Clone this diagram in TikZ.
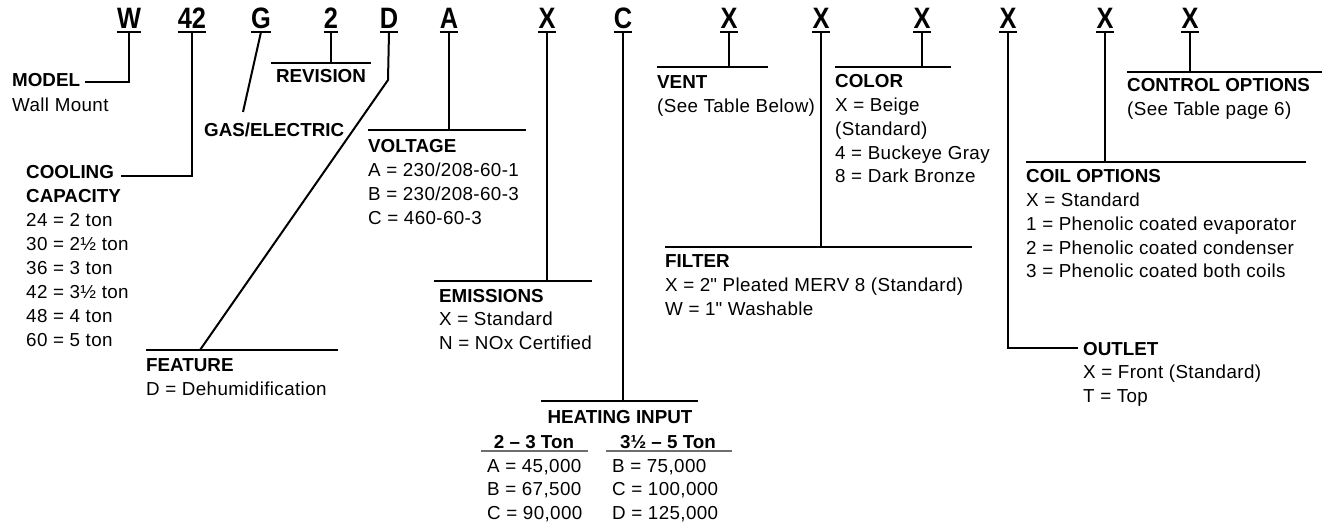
\documentclass[tikz,border=0pt]{standalone}
\usepackage{fontspec}
\setmainfont{Liberation Sans}[LetterSpace=2,BoldFeatures={LetterSpace=0}]
\newfontfamily\qfont[Ligatures=TeXOff,LetterSpace=2]{Liberation Sans}
\newfontface\bigfont[FakeStretch=0.86]{Liberation Sans Bold}
\newcommand{\dq}{{\qfont"}}
\definecolor{subline}{RGB}{110,110,110}
\begin{document}
\begin{tikzpicture}[x=1pt,y=-1pt,
  lead/.style={line width=2pt},
  ul/.style={line width=1.5pt},
  code/.style={font=\bigfont\fontsize{29.5}{30}\selectfont, inner sep=0pt, anchor=base},
  txt/.style={inner sep=0pt, anchor=base west, font=\fontsize{18.8}{23.7}\selectfont},
  ctxt/.style={inner sep=0pt, anchor=base, font=\fontsize{18.8}{23.7}\selectfont},
]
\useasboundingbox (0,0) rectangle (1327,529);

% ---- code letters
\foreach \nm/\xx/\lab in {cW/129/W, c42/192/42, cG/261/G, c2/331/2, cD/389/D, cA/449/A,
  cE/547/X, cH/623/C, cV/729/X, cF/821/X, cC/922/X, cO/1008/X, cI/1105/X, cK/1190/X}{
  \node[code] (\nm) at (\xx,29) {\lab};
  \draw[ul] ([yshift=-3pt]\nm.base west) -- ([yshift=-3pt]\nm.base east);
  \coordinate (t\nm) at ([yshift=-3pt]\nm.base);
}

% ---- MODEL
\node[txt] (model) at (12,87) {\begin{tabular}[t]{@{}l@{}}\textbf{MODEL}\\[1pt]Wall Mount\end{tabular}};
\coordinate (mE) at (85,82);
\draw[lead] (tcW) |- (mE);

% ---- COOLING CAPACITY
\node[txt] (cool) at (26,179) {\begin{tabular}[t]{@{}l@{}}\textbf{COOLING}\\[0.3pt]\textbf{CAPACITY}\\[0.3pt]
 24 = 2 ton\\[0.3pt]30 = 2½ ton\\[0.3pt]36 = 3 ton\\[0.3pt]42 = 3½ ton\\[0.3pt]48 = 4 ton\\[0.3pt]60 = 5 ton\end{tabular}};
\coordinate (ccE) at (121,176);
\draw[lead] (tc42) |- (ccE);

% ---- GAS/ELECTRIC
\node[txt] (gas) at (204,137) {\textbf{GAS/ELECTRIC}};
\coordinate (gE) at (243,112);
\draw[lead] (tcG) -- (gE);

% ---- REVISION
\coordinate (rL) at (271,63); \coordinate (rR) at (371,63);
\draw[lead] (rL) -- (rR);
\draw[lead] (tc2) -- (tc2 |- rL);
\node[ctxt] (rev) at (321,83) {\textbf{REVISION}};

% ---- FEATURE
\coordinate (fL) at (146,350); \coordinate (fR) at (338,350);
\coordinate (dK) at (388,80); \coordinate (dE) at (200,350);
\draw[lead] (fL) -- (fR);
\draw[lead] (tcD) -- (dK) -- (dE);
\node[txt] (feat) at (146,371) {\begin{tabular}[t]{@{}l@{}}\textbf{FEATURE}\\[0.3pt]D = Dehumidification\end{tabular}};

% ---- VOLTAGE
\coordinate (vL) at (368,130); \coordinate (vR) at (526,130);
\draw[lead] (vL) -- (vR);
\draw[lead] (tcA) -- (tcA |- vL);
\node[txt] (volt) at (368,153) {\begin{tabular}[t]{@{}l@{}}\textbf{VOLTAGE}\\A = 230/208-60-1\\B = 230/208-60-3\\C = 460-60-3\end{tabular}};

% ---- EMISSIONS
\coordinate (eL) at (434,281); \coordinate (eR) at (592,281);
\draw[lead] (eL) -- (eR);
\draw[lead] (tcE) -- (tcE |- eL);
\node[txt] (emis) at (439,302) {\begin{tabular}[t]{@{}l@{}}\textbf{EMISSIONS}\\X = Standard\\N = NOx Certified\end{tabular}};

% ---- HEATING INPUT
\coordinate (hL) at (541,401); \coordinate (hR) at (698,401);
\draw[lead] (hL) -- (hR);
\draw[lead] (tcH) -- (tcH |- hL);
\node[ctxt] (heat) at (620,423) {\textbf{HEATING INPUT}};
\node[ctxt] (h1) at (534,448) {\textbf{2 – 3 Ton}};
\node[ctxt] (h2) at (668,448) {\textbf{3½ – 5 Ton}};
\coordinate (s1L) at (481,451); \coordinate (s1R) at (588,451);
\coordinate (s2L) at (606,451); \coordinate (s2R) at (732,451);
\draw[line width=1.3pt, subline] (s1L) -- (s1R);
\draw[line width=1.3pt, subline] (s2L) -- (s2R);
\node[txt] (hc1) at (487,472) {\begin{tabular}[t]{@{}l@{}}A = 45,000\\B = 67,500\\C = 90,000\end{tabular}};
\node[txt] (hc2) at (612,472) {\begin{tabular}[t]{@{}l@{}}B = 75,000\\C = 100,000\\D = 125,000\end{tabular}};

% ---- VENT
\coordinate (ventL) at (657,67); \coordinate (ventR) at (768,67);
\draw[lead] (ventL) -- (ventR);
\draw[lead] (tcV) -- (tcV |- ventL);
\node[txt] (vent) at (657,89) {\begin{tabular}[t]{@{}l@{}}\textbf{VENT}\\(See Table Below)\end{tabular}};

% ---- FILTER
\coordinate (fiL) at (665,247); \coordinate (fiR) at (972,247);
\draw[lead] (fiL) -- (fiR);
\draw[lead] (tcF) -- (tcF |- fiL);
\node[txt] (filt) at (665,268) {\begin{tabular}[t]{@{}l@{}}\textbf{FILTER}\\X = 2\dq{} Pleated MERV 8 (Standard)\\W = 1\dq{} Washable\end{tabular}};

% ---- COLOR
\coordinate (coL) at (835,67); \coordinate (coR) at (951,67);
\draw[lead] (coL) -- (coR);
\draw[lead] (tcC) -- (tcC |- coL);
\node[txt] (colr) at (835,88) {\begin{tabular}[t]{@{}l@{}}\textbf{COLOR}\\X = Beige\\(Standard)\\4 = Buckeye Gray\\8 = Dark Bronze\end{tabular}};

% ---- OUTLET
\coordinate (oE) at (1078,348);
\draw[lead] (tcO) |- (oE);
\node[txt] (outl) at (1083,355) {\begin{tabular}[t]{@{}l@{}}\textbf{OUTLET}\\X = Front (Standard)\\T = Top\end{tabular}};

% ---- COIL OPTIONS
\coordinate (ciL) at (1026,162); \coordinate (ciR) at (1306,162);
\draw[lead] (ciL) -- (ciR);
\draw[lead] (tcI) -- (tcI |- ciL);
\node[txt] (coil) at (1026,183) {\begin{tabular}[t]{@{}l@{}}\textbf{COIL OPTIONS}\\X = Standard\\1 = Phenolic coated evaporator\\2 = Phenolic coated condenser\\3 = Phenolic coated both coils\end{tabular}};

% ---- CONTROL OPTIONS
\coordinate (ktL) at (1127,72); \coordinate (ktR) at (1322,72);
\draw[lead] (ktL) -- (ktR);
\draw[lead] (tcK) -- (tcK |- ktL);
\node[txt] (ctrl) at (1127,92) {\begin{tabular}[t]{@{}l@{}}\textbf{CONTROL OPTIONS}\\(See Table page 6)\end{tabular}};
\end{tikzpicture}
\end{document}
